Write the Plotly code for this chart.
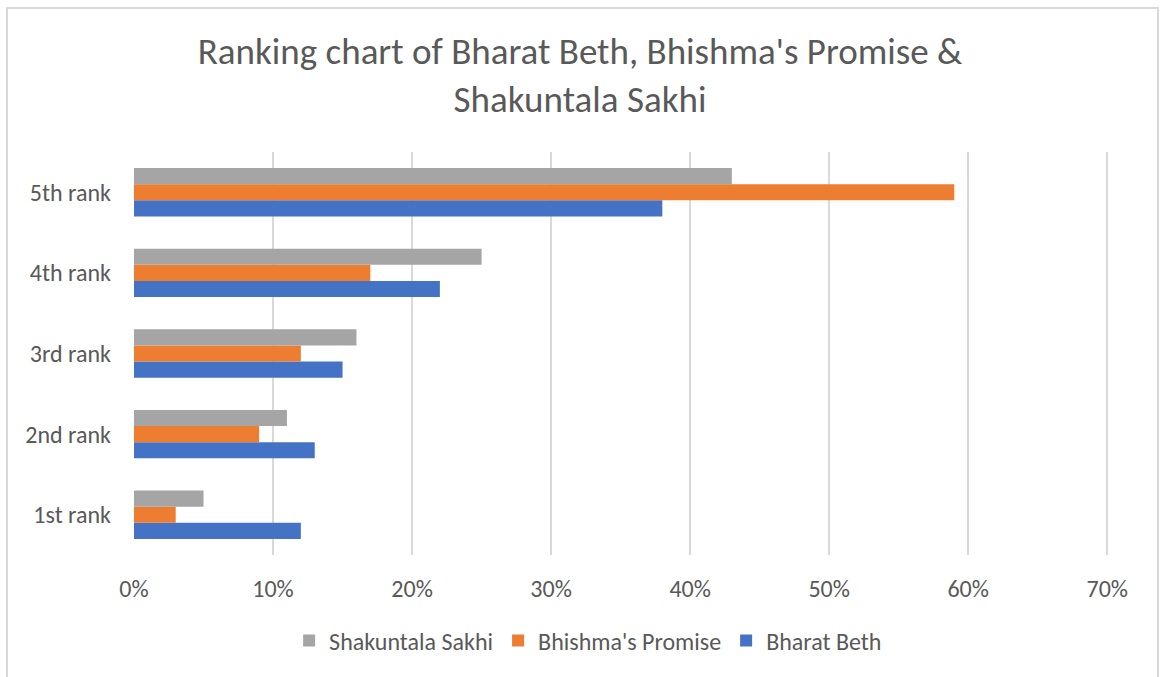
import plotly.graph_objects as go

categories = ["1st rank", "2nd rank", "3rd rank", "4th rank", "5th rank"]
bharat_beth = [0.12, 0.13, 0.15, 0.22, 0.38]
bhishmas_promise = [0.03, 0.09, 0.12, 0.17, 0.59]
shakuntala_sakhi = [0.05, 0.11, 0.16, 0.25, 0.43]
x_ticks = [0, 0.1, 0.2, 0.3, 0.4, 0.5, 0.6, 0.7]
x_tick_labels = ["0%", "10%", "20%", "30%", "40%", "50%", "60%", "70%"]

font_family = "Carlito, Calibri, Lato, 'Open Sans', sans-serif"
text_color = "#595959"

fig = go.Figure()
fig.add_trace(go.Bar(y=categories, x=bharat_beth, name="Bharat Beth", orientation="h",
                     marker=dict(color="#4472C4", line=dict(width=0))))
fig.add_trace(go.Bar(y=categories, x=bhishmas_promise, name="Bhishma's Promise", orientation="h",
                     marker=dict(color="#ED7D31", line=dict(width=0))))
fig.add_trace(go.Bar(y=categories, x=shakuntala_sakhi, name="Shakuntala Sakhi", orientation="h",
                     marker=dict(color="#A5A5A5", line=dict(width=0))))

W, H = 1160, 677
L, R, T, B = 134, 50, 152, 122
pw, ph = W - L - R, H - T - B

fig.update_layout(
    width=W, height=H,
    barmode="group", bargap=0.40, bargroupgap=0,
    paper_bgcolor="white", plot_bgcolor="white",
    margin=dict(l=L, r=R, t=T, b=B, autoexpand=False),
    font=dict(family=font_family, color=text_color, size=24),
    title=dict(text="Ranking chart of Bharat Beth, Bhishma's Promise &<br>Shakuntala Sakhi",
               x=0.5, xanchor="center", yref="container", y=1 - 64 / H, yanchor="middle",
               font=dict(size=37, color=text_color, family=font_family)),
    xaxis=dict(range=[0, 0.702], tickvals=x_ticks, ticktext=x_tick_labels,
               showgrid=True, gridcolor="#D9D9D9", gridwidth=1.5, zeroline=False,
               showline=False, ticks="", ticklabelstandoff=17, automargin=False,
               tickfont=dict(size=24, color=text_color)),
    yaxis=dict(showgrid=False, showline=False, ticks="", ticklabelstandoff=22, automargin=False,
               tickfont=dict(size=24, color=text_color)),
    legend=dict(orientation="h", xref="container", x=0.507, xanchor="center",
                yref="container", y=1 - 641 / H, yanchor="middle",
                traceorder="reversed", font=dict(size=24, color=text_color),
                itemwidth=30),
    shapes=[dict(type="rect", xref="paper", yref="paper",
                 x0=(7 - L) / pw, x1=(1158 - L) / pw,
                 y0=(H - B - 700) / ph, y1=(H - B - 8) / ph,
                 line=dict(color="#D9D9D9", width=2), fillcolor="rgba(0,0,0,0)")],
)

fig.write_html("out.html", config={"displayModeBar": False},
               post_script="document.body.style.margin='0px';document.body.style.overflow='hidden';")
